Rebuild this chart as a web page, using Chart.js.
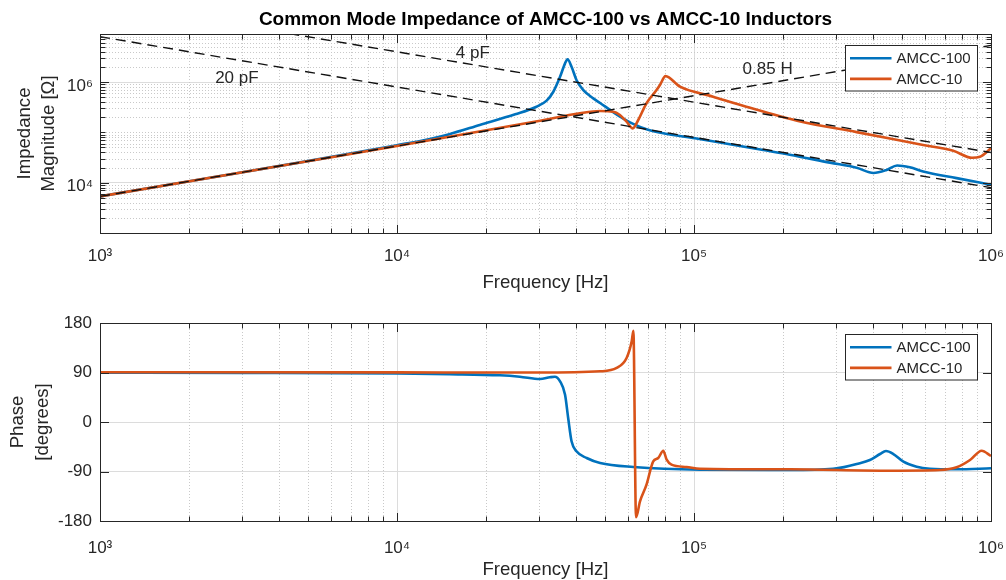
<!DOCTYPE html>
<html>
<head>
<meta charset="utf-8">
<script src="https://cdn.jsdelivr.net/npm/chart.js@4.4.1/dist/chart.umd.min.js"></script>
<style>
  html, body { margin: 0; padding: 0; background: #fff; width: 1006px; height: 580px; overflow: hidden; }
  canvas { position: absolute; left: 0; }
  #magCanvas { top: 0; }
  #phaseCanvas { top: 300px; }
</style>
</head>
<body>
<canvas id="magCanvas" width="1006" height="300"></canvas>
<canvas id="phaseCanvas" width="1006" height="280"></canvas>
<script>
// ---- Measured data ----------------------------------------------------
// AMCC-100: impedance magnitude [Ohm] vs frequency [Hz]
const freqMag100 = [1000, 2000, 5000, 10000, 12900, 15000, 19000, 25000, 29500, 31900, 33600, 35400,
  36800, 37500, 38700, 40200, 42400, 45800, 48300, 52800, 57800, 62400, 69200, 78800, 100800, 132000,
  171000, 210000, 287000, 353000, 402000, 445000, 483000, 533000, 591000, 766000, 1000000];
const mag100 = [5340, 10700, 26800, 55500, 74000, 92000, 140000, 228000, 323000, 426000, 641000, 1270000,
  2350000, 2830000, 2010000, 1100000, 693000, 474000, 383000, 265000, 188000, 147000, 115000, 95700, 76200, 58000,
  44500, 36000, 25000, 19800, 15600, 17900, 22000, 20200, 16700, 12300, 9100];

// AMCC-10: impedance magnitude [Ohm] vs frequency [Hz]
const freqMag10 = [1000, 5000, 10000, 20000, 30000, 41300, 48300, 53500, 56300, 59300, 62200, 64900,
  69200, 74800, 76800, 80200, 89700, 116000, 150000, 228000, 353000, 591000, 746000, 863000, 918000, 1000000];
const mag10 = [5340, 26700, 53400, 110000, 168000, 239000, 265000, 257000, 221000, 163000, 120000, 176000,
  378000, 693000, 872000, 1310000, 807000, 511000, 323000, 165000, 101000, 56000, 43000, 31300, 32800, 48200];

// AMCC-100: phase [degrees]
const freqPh100 = [1000, 3000, 10000, 15000, 22200, 25900, 30300, 32700, 34000, 35400, 36800, 37700, 38700,
  40200, 43500, 48300, 62500, 104800, 210000, 294000, 320000, 353000, 391000, 423000, 443000, 469000,
  507000, 562000, 623000, 766000, 1000000];
const ph100 = [89.6, 89.3, 88.3, 87, 84.9, 82.4, 78.2, 81.3, 82.4, 74, 49.6, 7.3, -35.1,
  -53.3, -65.4, -74.5, -81.8, -86.7, -87.3, -85, -82, -76.4, -69.1, -58.2, -52.7, -58.2,
  -72.2, -81.3, -84.9, -86, -84.2];

// AMCC-10: phase [degrees]
const freqPh10 = [1000, 10000, 30000, 48300, 54900, 59300, 61700, 62500, 63800, 65800, 69200, 72900,
  75800, 78800, 80900, 84000, 94400, 104800, 210000, 457000, 673000, 766000, 850000, 930000, 1000000];
const ph10 = [90.4, 90.2, 90, 92.2, 98.2, 116.4, 146.7, 166, -173.3, -144.2, -114, -71.4,
  -65.4, -52.2, -68.5, -77.6, -81.8, -84.9, -86, -88.5, -87.3, -82.4, -69.1, -52.2, -61.8];

// Reference asymptotes (values stated in their labels)
const inductanceH = 0.85;
const capacitancesF = [4e-12, 20e-12];
const guideFreqs = [1e3, 1e6];

// Axis ticks
const freqTicks = [1e3, 1e4, 1e5, 1e6];
const magTicks = [1e4, 1e6];
const phaseTicks = [-180, -90, 0, 90, 180];

const seriesNames = ['AMCC-100', 'AMCC-10'];

// ---- Styling ----------------------------------------------------------
const FONT = "'Liberation Sans', Arial, Helvetica, sans-serif";
const INK = '#262626';
const BLUE = '#0072BD';
const ORANGE = '#D95319';
const SUP = { '0': '\u2070', '1': '\u00B9', '2': '\u00B2', '3': '\u00B3', '4': '\u2074',
  '5': '\u2075', '6': '\u2076', '7': '\u2077', '8': '\u2078', '9': '\u2079', '-': '\u207B' };
const powLabel = v => '10' + String(Math.round(Math.log10(v))).split('').map(c => SUP[c]).join('');

function logMinors(fromExp, toExp, maxVal) {
  const out = [];
  for (let e = fromExp; e < toExp; e++) {
    for (let m = 2; m <= 9; m++) {
      const v = m * Math.pow(10, e);
      if (v <= maxVal) out.push(v);
    }
  }
  return out;
}

const pts = (xs, ys) => xs.map((x, i) => ({ x, y: ys[i] }));
const guide = (label, data) => ({
  label, data, isGuide: true, borderColor: '#111', borderWidth: 1.4,
  borderDash: [10, 6], order: 0, cubicInterpolationMode: 'default', tension: 0
});

// Gridlines, boxed axes with inward ticks, text notes and boxed legend
const axesDecor = {
  id: 'axesDecor',
  beforeDatasetsDraw(chart, _args, o) {
    if (!o || !o.xMinor) return;
    const { ctx, chartArea: a, scales: { x, y } } = chart;
    ctx.save();
    ctx.beginPath();
    ctx.rect(a.left, a.top, a.right - a.left, a.bottom - a.top);
    ctx.clip();
    ctx.strokeStyle = '#c9c9c9';
    ctx.lineWidth = 1;
    ctx.setLineDash([1, 2]);
    ctx.beginPath();
    o.xMinor.forEach(v => {
      const px = Math.round(x.getPixelForValue(v)) + 0.5;
      ctx.moveTo(px, a.top); ctx.lineTo(px, a.bottom);
    });
    (o.yMinor || []).forEach(v => {
      const py = Math.round(y.getPixelForValue(v)) + 0.5;
      ctx.moveTo(a.left, py); ctx.lineTo(a.right, py);
    });
    ctx.stroke();
    ctx.restore();
  },
  afterDatasetsDraw(chart, _args, o) {
    if (!o || !o.xMinor) return;
    const { ctx, chartArea: a, scales: { x, y } } = chart;
    const L = Math.round(a.left) + 0.5, R = Math.round(a.right) + 0.5;
    const T = Math.round(a.top) + 0.5, B = Math.round(a.bottom) + 0.5;
    ctx.save();
    ctx.strokeStyle = INK;
    ctx.lineWidth = 1;
    ctx.setLineDash([]);
    ctx.beginPath();
    const xt = (vals, len) => vals.forEach(v => {
      const px = Math.round(x.getPixelForValue(v)) + 0.5;
      ctx.moveTo(px, B); ctx.lineTo(px, B - len);
      ctx.moveTo(px, T); ctx.lineTo(px, T + len);
    });
    const yt = (vals, len) => vals.forEach(v => {
      const py = Math.round(y.getPixelForValue(v)) + 0.5;
      ctx.moveTo(L, py); ctx.lineTo(L + len, py);
      ctx.moveTo(R, py); ctx.lineTo(R - len, py);
    });
    xt(o.xMajor, 8.5); xt(o.xMinor, 5);
    yt(o.yMajor, 8.5); yt(o.yMinor || [], 5);
    ctx.stroke();
    ctx.strokeRect(L, T, R - L, B - T);

    // text notes on the asymptotes
    ctx.fillStyle = INK;
    ctx.font = '17px ' + FONT;
    ctx.textAlign = 'center';
    ctx.textBaseline = 'middle';
    (o.notes || []).forEach(n => {
      ctx.fillText(n.text, x.getPixelForValue(n.x), y.getPixelForValue(n.y));
    });

    // legend box
    const lg = o.legend;
    const bx = Math.round(a.right - lg.rightGap - lg.width) + 0.5;
    const by = Math.round(a.top + lg.topGap) + 0.5;
    ctx.fillStyle = '#fff';
    ctx.fillRect(bx, by, lg.width, lg.height);
    ctx.strokeStyle = INK;
    ctx.lineWidth = 1;
    ctx.strokeRect(bx, by, lg.width, lg.height);
    ctx.font = '15px ' + FONT;
    ctx.textAlign = 'left';
    lg.names.forEach((name, i) => {
      const ds = chart.data.datasets.find(d => d.label === name);
      const ry = by + lg.rows[i];
      ctx.strokeStyle = ds.borderColor;
      ctx.lineWidth = 2.6;
      ctx.beginPath();
      ctx.moveTo(bx + 4.5, ry); ctx.lineTo(bx + 46, ry);
      ctx.stroke();
      ctx.fillStyle = INK;
      ctx.fillText(name, bx + 51, ry + 0.5);
    });
    ctx.restore();
  }
};
Chart.register(axesDecor);

const legendSpec = { names: seriesNames, width: 132, height: 45.5, rightGap: 14, topGap: 10.5, rows: [12.8, 33.4] };

const xScale = (tickPad, height, titleLH, titlePadBottom) => ({
  type: 'logarithmic', min: 1e3, max: 1e6,
  afterBuildTicks: s => { s.ticks = freqTicks.map(v => ({ value: v })); },
  afterFit: s => { s.height = height; s.paddingLeft = 0; s.paddingRight = 0; },
  ticks: { autoSkip: false, maxRotation: 0, minRotation: 0, padding: tickPad, color: INK,
    font: { family: FONT, size: 17 }, callback: v => powLabel(v) },
  grid: { color: '#dcdcdc', lineWidth: 1, drawTicks: false },
  border: { display: false },
  title: { display: true, text: 'Frequency [Hz]', color: INK,
    font: { family: FONT, size: 18.6, lineHeight: titleLH }, padding: { top: 0, bottom: titlePadBottom } }
});

const yFit = s => { s.width = 100; s.paddingTop = 0; s.paddingBottom = 0; };

const commonOpts = {
  responsive: false, animation: false, devicePixelRatio: 1, events: [],
  elements: { point: { radius: 0 }, line: { borderWidth: 2.6, fill: false, cubicInterpolationMode: 'monotone' } }
};

// ---- Impedance magnitude --------------------------------------------
const capGuides = capacitancesF.map(c => pts(guideFreqs, guideFreqs.map(f => 1 / (2 * Math.PI * f * c))));
const indGuide = pts(guideFreqs, guideFreqs.map(f => 2 * Math.PI * f * inductanceH));

new Chart(document.getElementById('magCanvas'), {
  type: 'line',
  data: {
    datasets: [
      guide('4 pF', capGuides[0]),
      guide('20 pF', capGuides[1]),
      guide('0.85 H', indGuide),
      { label: 'AMCC-10', data: pts(freqMag10, mag10), borderColor: ORANGE, order: 1 },
      { label: 'AMCC-100', data: pts(freqMag100, mag100), borderColor: BLUE, order: 2 }
    ]
  },
  options: {
    ...commonOpts,
    layout: { padding: { left: 0, right: 15, top: 0, bottom: 0 } },
    plugins: {
      legend: { display: false }, tooltip: { enabled: false },
      title: { display: true, fullSize: false, text: 'Common Mode Impedance of AMCC-100 vs AMCC-10 Inductors',
        color: '#000', font: { family: FONT, size: 19, weight: 'bold', lineHeight: 1.2 },
        padding: { top: 8, bottom: 3.2 } },
      axesDecor: {
        xMajor: freqTicks, xMinor: logMinors(3, 6, 1e6),
        yMajor: magTicks, yMinor: logMinors(3, 7, 9e6).concat([1e5]),
        notes: [
          { text: '4 pF', x: 18000, y: 3.77e6 },
          { text: '20 pF', x: 2890, y: 1.19e6 },
          { text: '0.85 H', x: 177000, y: 1.83e6 }
        ],
        legend: legendSpec
      }
    },
    scales: {
      x: xScale(13.5, 67, 1.2, 6),
      y: {
        type: 'logarithmic', min: 1e3, max: 9e6,
        afterBuildTicks: s => { s.ticks = magTicks.map(v => ({ value: v })); },
        afterFit: yFit,
        ticks: { padding: 7, labelOffset: 4, color: INK, font: { family: FONT, size: 17 }, callback: v => powLabel(v) },
        grid: { color: '#dcdcdc', lineWidth: 1, drawTicks: false },
        border: { display: false },
        title: { display: true, text: ['Impedance', 'Magnitude [\u03A9]'], color: INK,
          font: { family: FONT, size: 18.6, lineHeight: 1.29 }, padding: { top: 13, bottom: 0 } }
      }
    }
  }
});

// ---- Phase ------------------------------------------------------------
new Chart(document.getElementById('phaseCanvas'), {
  type: 'line',
  data: {
    datasets: [
      { label: 'AMCC-10', data: pts(freqPh10, ph10), borderColor: ORANGE, order: 1 },
      { label: 'AMCC-100', data: pts(freqPh100, ph100), borderColor: BLUE, order: 2 }
    ]
  },
  options: {
    ...commonOpts,
    layout: { padding: { left: 0, right: 15, top: 23, bottom: 0 } },
    plugins: {
      legend: { display: false }, tooltip: { enabled: false },
      axesDecor: {
        xMajor: freqTicks, xMinor: logMinors(3, 6, 1e6),
        yMajor: phaseTicks, yMinor: [],
        legend: legendSpec
      }
    },
    scales: {
      x: xScale(17, 59, 1.0, 0.7),
      y: {
        type: 'linear', min: -180, max: 180,
        afterBuildTicks: s => { s.ticks = phaseTicks.map(v => ({ value: v })); },
        afterFit: yFit,
        ticks: { padding: 8, color: INK, font: { family: FONT, size: 17 }, callback: v => String(v) },
        grid: { color: '#dcdcdc', lineWidth: 1, drawTicks: false },
        border: { display: false },
        title: { display: true, text: ['Phase', '[degrees]'], color: INK,
          font: { family: FONT, size: 18.6, lineHeight: 1.344 }, padding: { top: 5.8, bottom: 0 } }
      }
    }
  }
});
</script>
</body>
</html>
